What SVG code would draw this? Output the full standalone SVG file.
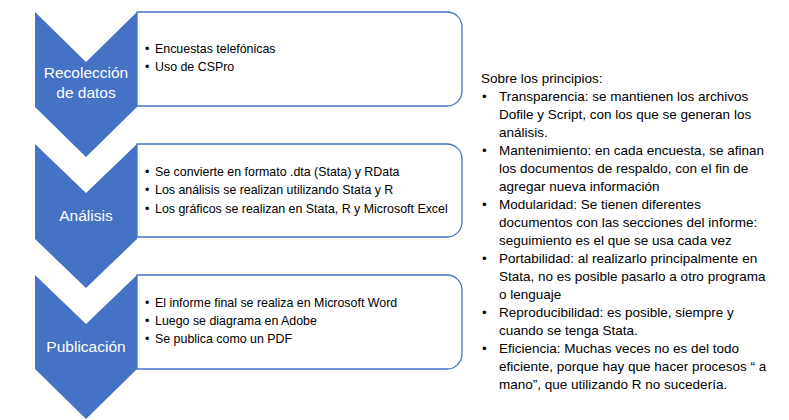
<svg xmlns="http://www.w3.org/2000/svg" width="789" height="420" viewBox="0 0 789 420">
<style>
.chev{fill:#4472C4;}
.box{fill:#FFFFFF;stroke:#4472C4;stroke-width:1.3;}
.lbl{font-family:"Liberation Sans",Arial,sans-serif;font-size:15.5px;fill:#FFFFFF;text-anchor:middle;}
.bt{font-family:"Liberation Sans",Arial,sans-serif;font-size:12.4px;fill:#000000;}
.rt{font-family:"Liberation Sans",Arial,sans-serif;font-size:13.5px;fill:#000000;}
</style>
<rect width="789" height="420" fill="#FFFFFF"/>
<g id="box1">
<path class="box" d="M137,12 H447 A15,15 0 0 1 462,27 V91 A15,15 0 0 1 447,106 H137 Z"/>
<text class="bt" x="145" y="53">•</text><text class="bt" x="155" y="53">Encuestas telefónicas</text>
<text class="bt" x="145" y="71">•</text><text class="bt" x="155" y="71">Uso de CSPro</text>
</g>
<g id="box2">
<path class="box" d="M137,144 H447 A15,15 0 0 1 462,159 V222 A15,15 0 0 1 447,237 H137 Z"/>
<text class="bt" x="145" y="176">•</text><text class="bt" x="155" y="176">Se convierte en formato .dta (Stata) y RData</text>
<text class="bt" x="145" y="194">•</text><text class="bt" x="155" y="194">Los análisis se realizan utilizando Stata y R</text>
<text class="bt" x="145" y="213">•</text><text class="bt" x="155" y="213">Los gráficos se realizan en Stata, R y Microsoft Excel</text>
</g>
<g id="box3">
<path class="box" d="M137,275 H447 A15,15 0 0 1 462,290 V354 A15,15 0 0 1 447,369 H137 Z"/>
<text class="bt" x="145" y="307">•</text><text class="bt" x="155" y="307">El informe final se realiza en Microsoft Word</text>
<text class="bt" x="145" y="325">•</text><text class="bt" x="155" y="325">Luego se diagrama en Adobe</text>
<text class="bt" x="145" y="343">•</text><text class="bt" x="155" y="343">Se publica como un PDF</text>
</g>
<g id="step1">
<path class="chev" d="M35,12 L86,62 L137,12 V107 L86,157 L35,107 Z"/>
<text class="lbl" x="86" y="78">Recolección</text>
<text class="lbl" x="86" y="98">de datos</text>
</g>
<g id="step2">
<path class="chev" d="M35,144 L86,193 L137,144 V239 L86,288 L35,239 Z"/>
<text class="lbl" x="86" y="221">Análisis</text>
</g>
<g id="step3">
<path class="chev" d="M35,275 L86,324 L137,275 V369 L86,419 L35,369 Z"/>
<text class="lbl" x="86" y="352">Publicación</text>
</g>
<g id="principles">
<text class="rt" x="481" y="83">Sobre los principios:</text>
<text class="rt" x="482" y="101">•</text><text class="rt" x="499" y="101">Transparencia: se mantienen los archivos</text>
<text class="rt" x="499" y="119">Dofile y Script, con los que se generan los</text>
<text class="rt" x="499" y="137">análisis.</text>
<text class="rt" x="482" y="155">•</text><text class="rt" x="499" y="155">Mantenimiento: en cada encuesta, se afinan</text>
<text class="rt" x="499" y="173">los documentos de respaldo, con el fin de</text>
<text class="rt" x="499" y="191">agregar nueva información</text>
<text class="rt" x="482" y="209">•</text><text class="rt" x="499" y="209">Modularidad: Se tienen diferentes</text>
<text class="rt" x="499" y="227">documentos con las secciones del informe:</text>
<text class="rt" x="499" y="245">seguimiento es el que se usa cada vez</text>
<text class="rt" x="482" y="263">•</text><text class="rt" x="499" y="263">Portabilidad: al realizarlo principalmente en</text>
<text class="rt" x="499" y="281">Stata, no es posible pasarlo a otro programa</text>
<text class="rt" x="499" y="299">o lenguaje</text>
<text class="rt" x="482" y="317">•</text><text class="rt" x="499" y="317">Reproducibilidad: es posible, siempre y</text>
<text class="rt" x="499" y="335">cuando se tenga Stata.</text>
<text class="rt" x="482" y="353">•</text><text class="rt" x="499" y="353">Eficiencia: Muchas veces no es del todo</text>
<text class="rt" x="499" y="371">eficiente, porque hay que hacer procesos “ a</text>
<text class="rt" x="499" y="389">mano”, que utilizando R no sucedería.</text>
</g>
</svg>
